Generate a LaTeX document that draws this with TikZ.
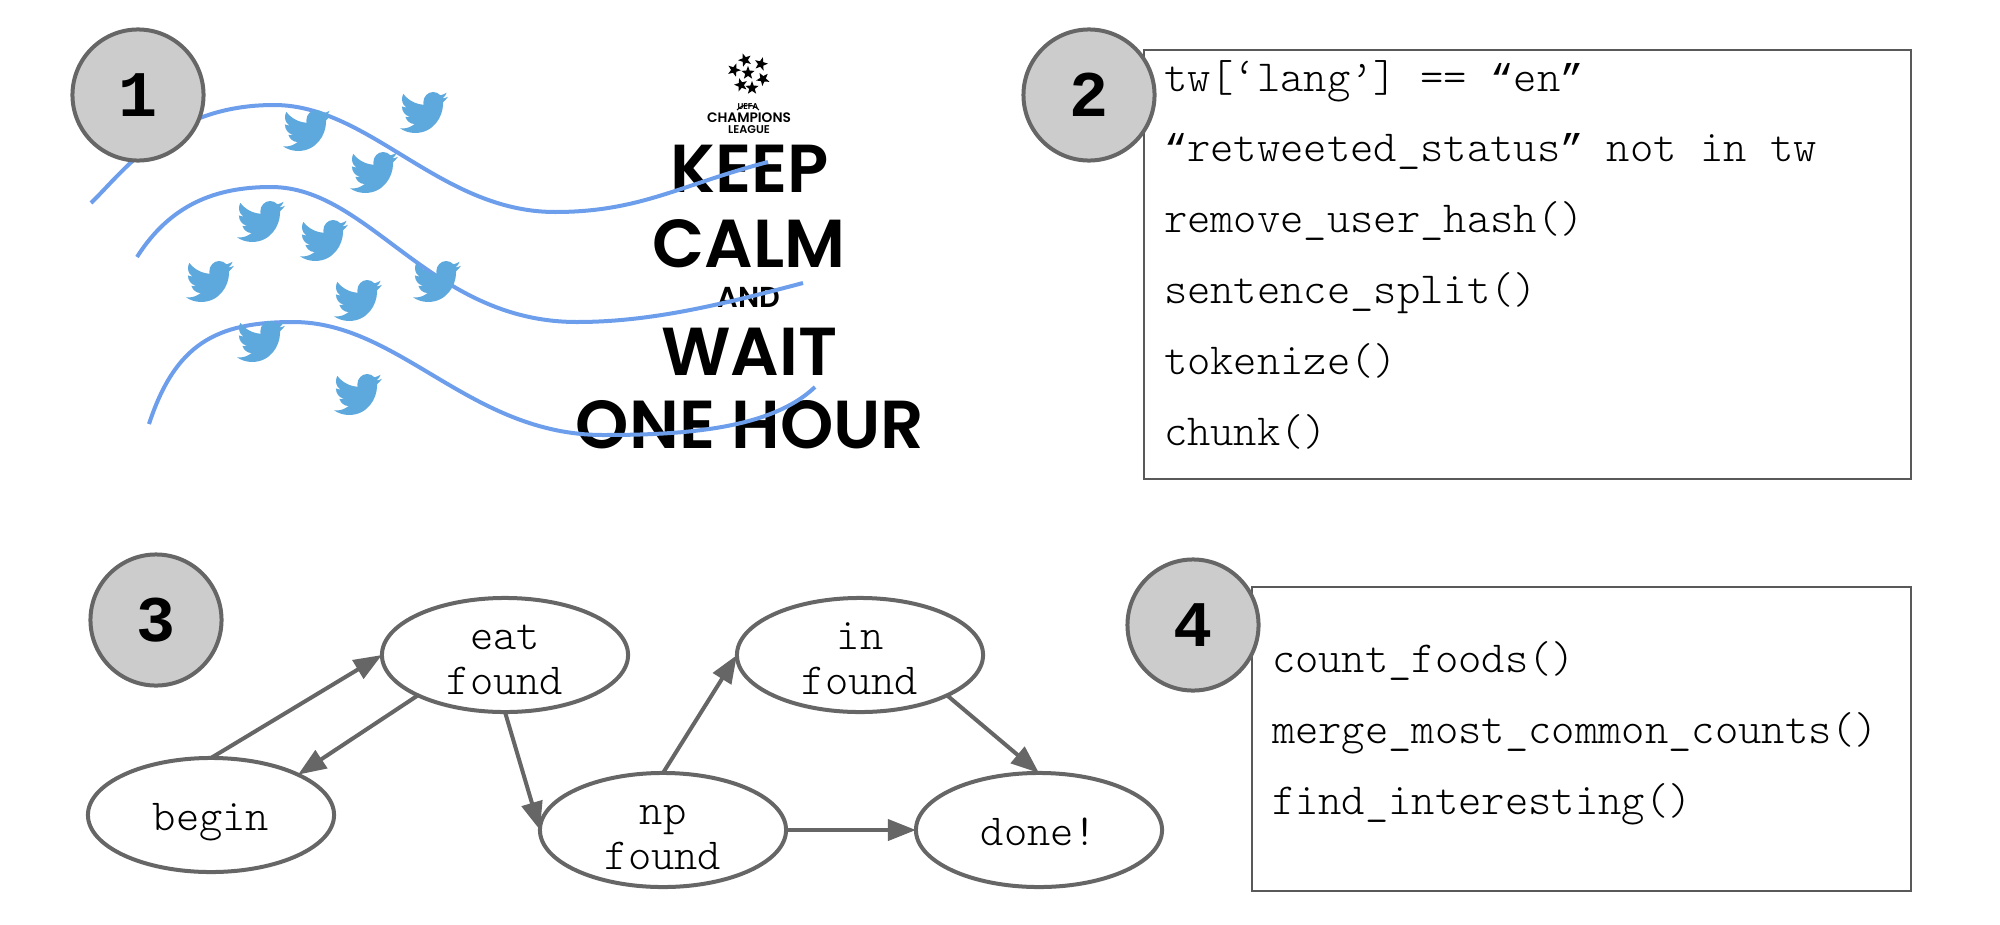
\documentclass[tikz,border=0pt]{standalone}
\usepackage{fontspec}
\newfontfamily\posterfont{Poppins SemiBold}
\newfontfamily\codefont{Latin Modern Mono Light}
\newfontfamily\stepfont{Liberation Mono}
\newcommand*{\qm}[1]{{\stepfont\fontsize{11}{20.15}\selectfont #1}}
\usetikzlibrary{arrows.meta,shapes.geometric}
\definecolor{edgegray}{HTML}{666666}
\definecolor{circlegray}{HTML}{CCCCCC}
\definecolor{boxgray}{HTML}{595959}
\definecolor{birdblue}{HTML}{5DA9DD}
\definecolor{wavyblue}{HTML}{6D9EEB}
\tikzset {>={Triangle[length=8pt,width=6pt]}}
\tikzset{
  stepnum/.style={circle,draw=edgegray,line width=.04cm,fill=circlegray,minimum size=1.31cm,inner sep=0pt,outer sep=0pt,
    font=\stepfont\bfseries\fontsize{18.5}{20}\selectfont},
  state/.style={ellipse,draw=edgegray,line width=.04cm,fill=white,minimum width=2.46cm,minimum height=1.14cm,inner sep=0pt,outer sep=0pt,align=center,
    text height=.31cm,text depth=0pt,font=\codefont\fontsize{12.6}{12.9}\selectfont},
  twoline/.style={text height=.79cm},
  codebox/.style={rectangle,draw=boxgray,line width=.02cm,fill=white,inner sep=0pt,outer sep=0pt,align=flush left,anchor=north west,
    text height=0pt,font=\codefont\fontsize{12.63}{20.15}\selectfont},
  poster/.style={anchor=base,inner sep=0pt,font=\posterfont\fontsize{#1}{#1}\selectfont},
  ballstar/.style={star,star points=5,star point ratio=2.4,fill=black,minimum size=.14cm,inner sep=0pt},
  wavy/.style={draw=wavyblue,line width=.04cm},
  edge/.style={->,draw=edgegray,line width=.04cm},
  pics/bird/.style={code={
    \fill[birdblue,x=.0229cm,y=-.0241cm,shift={(-1.54,-4)}] (22.46,6) .. controls (21.69,6.35) and (20.86,6.58) .. (20,6.69)
      .. controls (20.88,6.16) and (21.56,5.32) .. (21.88,4.31) .. controls (21.05,4.81) and (20.13,5.16) .. (19.16,5.36)
      .. controls (18.37,4.5) and (17.26,4) .. (16,4) .. controls (13.65,4) and (11.73,5.92) .. (11.73,8.29)
      .. controls (11.73,8.63) and (11.77,8.96) .. (11.84,9.27) .. controls (8.28,9.09) and (5.11,7.38) .. (3,4.79)
      .. controls (2.63,5.42) and (2.42,6.16) .. (2.42,6.94) .. controls (2.42,8.43) and (3.17,9.75) .. (4.33,10.5)
      .. controls (3.62,10.5) and (2.96,10.3) .. (2.38,10) -- (2.38,10.03)
      .. controls (2.38,12.11) and (3.86,13.85) .. (5.82,14.24) .. controls (5.46,14.34) and (5.08,14.39) .. (4.69,14.39)
      .. controls (4.42,14.39) and (4.15,14.36) .. (3.89,14.31) .. controls (4.43,16) and (6,17.26) .. (7.89,17.29)
      .. controls (6.43,18.45) and (4.58,19.13) .. (2.56,19.13) .. controls (2.22,19.13) and (1.88,19.11) .. (1.54,19.07)
      .. controls (3.44,20.29) and (5.7,21) .. (8.12,21) .. controls (16,21) and (20.33,14.46) .. (20.33,8.79)
      .. controls (20.33,8.6) and (20.33,8.42) .. (20.32,8.23) .. controls (21.16,7.63) and (21.88,6.87) .. (22.46,6) -- cycle;
  }}
}

\begin{document}
\begin{tikzpicture}[x=.01cm,y=-.01cm]
\useasboundingbox (0,0) rectangle (2000,924);
% poster
\node[poster=19.3] (keep) at (750,192) {KEEP};
\node[poster=19.3] (calm) at (749,267) {CALM};
\node[poster=8.2] (and) at (749,307) {AND};
\node[poster=19.3] (wait) at (749.5,375) {WAIT};
\node[poster=19.3] (hour) at (750,448) {ONE HOUR};
\foreach \i/\x/\y/\r in {1/748/73/0,2/745/60/20,3/761/64/-15,4/763/79/30,5/752/88/0,6/741/85/15,7/734/70/-20}
  \node[ballstar,rotate=\r] (star\i) at (\x,\y) {};
\draw[line width=.3pt] (737,110) to[bend left=50] (759,110);
\node[inner sep=0pt,font=\posterfont\fontsize{2.4}{3}\selectfont] (uefa) at (748,107) {UEFA};
\node[anchor=base,inner sep=0pt,font=\posterfont\fontsize{3.9}{5}\selectfont] (champ) at (749,122.6) {CHAMPIONS};
\node[anchor=base,inner sep=0pt,font=\posterfont\fontsize{3.2}{4}\selectfont] (league) at (749,133) {LEAGUE};
% streams
\draw[wavy] (91,203) .. controls (125,170) and (170,105) .. (274,105)
  .. controls (370,105) and (440,212) .. (555,212) .. controls (640,212) and (680,185) .. (768,162);
\draw[wavy] (137,257) .. controls (170,205) and (215,187) .. (271,187)
  .. controls (370,187) and (430,322) .. (577,322) .. controls (650,322) and (720,305) .. (803,283);
\draw[wavy] (149,424) .. controls (175,345) and (215,322) .. (293,322)
  .. controls (400,322) and (470,435) .. (603,435) .. controls (680,435) and (770,430) .. (815,387);
% birds
\foreach \x/\y in {283/110,400/92,350/152,237/201,300/220,186/261,334/280,413/261,237/321,334/374}
  \pic at (\x,\y) {bird};
% boxes
\node[codebox,minimum width=7.67cm,minimum height=4.29cm,text width=7.27cm,text depth=3.47cm] (box2) at (1144,50)
  {tw[‘lang’] == \qm{“}en\qm{”}\\ \qm{“}retweeted\_status\qm{”} not in tw\\ remove\_user\_hash()\\ sentence\_split()\\ tokenize()\\ chunk()};
\node[codebox,minimum width=6.59cm,minimum height=3.04cm,text width=6.19cm,text depth=1.33cm] (box4) at (1252,587)
  {count\_foods()\\ merge\_most\_common\_counts()\\ find\_interesting()};
% steps
\node[stepnum] (one) at (138,95) {1};
\node[stepnum] (two) at (1089,95) {2};
\node[stepnum] (three) at (156,620) {3};
\node[stepnum] (four) at (1193,625) {4};
% states
\node[state,twoline] (eat) at (505,655) {eat\\found};
\node[state,twoline] (in) at (860,655) {in\\found};
\node[state] (begin) at (211,815) {begin};
\node[state,twoline] (np) at (663,830) {np\\found};
\node[state] (done) at (1039,830) {done!};
\draw[edge] (begin.north) -- (eat.west);
\draw[edge] (eat.south west) -- (begin.north east);
\draw[edge] (eat.south) -- (np.west);
\draw[edge] (np.north) -- (in.west);
\draw[edge] (in.south east) -- (done.north);
\draw[edge] (np.east) -- (done.west);
\end{tikzpicture}
\end{document}
